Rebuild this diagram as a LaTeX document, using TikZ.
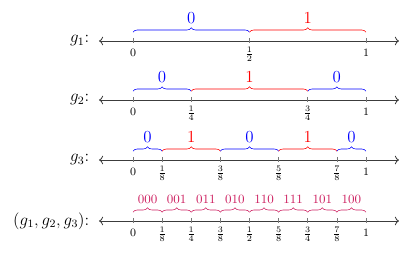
\documentclass[tikz,border=0pt]{standalone}
\usetikzlibrary{arrows.meta,decorations.pathreplacing,positioning,calc}

\definecolor{zeroclr}{RGB}{0,0,255}
\definecolor{oneclr}{RGB}{255,0,0}
\definecolor{codeclr}{RGB}{205,30,95}
\definecolor{axclr}{RGB}{60,60,60}
\definecolor{tickclr}{RGB}{120,120,120}

\tikzset{
  %% number line with open tips at both ends
  axline/.style={<->,semithick,color=axclr},
  tickln/.style={thin,color=tickclr},
  ticklbl/.style={font=\footnotesize,anchor=base,inner sep=0pt,yshift=-0.39cm},
  rowlbl/.style={font=\large},
  %% braces over the intervals
  brc/.style={decorate,decoration={brace,amplitude=0.11cm,raise=0.22cm},thin,color=#1},
  bitlbl/.style={font=\large,midway,yshift=0.575cm,text=#1},
  codelbl/.style={font=\small,midway,yshift=0.54cm,text=codeclr},
}

\begin{document}
\begin{tikzpicture}
  \useasboundingbox (0,0) rectangle (10.175,-6.35);

  %% one axis per row, tick points in eighths
  \foreach \r/\y in {1/-1.025,2/-2.5,3/-4.0,4/-5.525}{
    \coordinate (l\r) at (2.475,\y);
    \coordinate (r\r) at (9.975,\y);
    \draw[axline] (l\r) -- (r\r);
    \foreach \k in {0,...,8}
      \coordinate (p\r-\k) at (3.325+\k*0.728125,\y);
  }

  %% row labels
  \node[rowlbl,left=0.12cm of l1] (g1)   {$g_1$:};
  \node[rowlbl,left=0.12cm of l2] (g2)   {$g_2$:};
  \node[rowlbl,left=0.12cm of l3] (g3)   {$g_3$:};
  \node[rowlbl,left=0.12cm of l4] (gall) {$(g_1,g_2,g_3)$:};

  %% ticks and their labels
  \foreach \r/\k/\t in {1/0/0,1/4/\frac12,1/8/1,
                        2/0/0,2/2/\frac14,2/6/\frac34,2/8/1,
                        3/0/0,3/1/\frac18,3/3/\frac38,3/5/\frac58,3/7/\frac78,3/8/1,
                        4/0/0,4/1/\frac18,4/2/\frac14,4/3/\frac38,4/4/\frac12,
                        4/5/\frac58,4/6/\frac34,4/7/\frac78,4/8/1}{
    \draw[tickln] ($(p\r-\k)+(0,0.08)$) -- ($(p\r-\k)+(0,-0.05)$);
    \node[ticklbl] (n\r-\k) at (p\r-\k) {$\t$};
  }

  %% g1
  \draw[brc=zeroclr] (p1-0) -- node[bitlbl=zeroclr] (b1a) {0} (p1-4);
  \draw[brc=oneclr]  (p1-4) -- node[bitlbl=oneclr]  (b1b) {1} (p1-8);

  %% g2
  \draw[brc=zeroclr] (p2-0) -- node[bitlbl=zeroclr] (b2a) {0} (p2-2);
  \draw[brc=oneclr]  (p2-2) -- node[bitlbl=oneclr]  (b2b) {1} (p2-6);
  \draw[brc=zeroclr] (p2-6) -- node[bitlbl=zeroclr] (b2c) {0} (p2-8);

  %% g3
  \draw[brc=zeroclr] (p3-0) -- node[bitlbl=zeroclr] (b3a) {0} (p3-1);
  \draw[brc=oneclr]  (p3-1) -- node[bitlbl=oneclr]  (b3b) {1} (p3-3);
  \draw[brc=zeroclr] (p3-3) -- node[bitlbl=zeroclr] (b3c) {0} (p3-5);
  \draw[brc=oneclr]  (p3-5) -- node[bitlbl=oneclr]  (b3d) {1} (p3-7);
  \draw[brc=zeroclr] (p3-7) -- node[bitlbl=zeroclr] (b3e) {0} (p3-8);

  %% (g1,g2,g3)
  \foreach \a/\b/\c in {0/1/000,1/2/001,2/3/011,3/4/010,4/5/110,5/6/111,6/7/101,7/8/100}
    \draw[brc=codeclr] (p4-\a) -- node[codelbl] (c\a) {\c} (p4-\b);

\end{tikzpicture}
\end{document}
